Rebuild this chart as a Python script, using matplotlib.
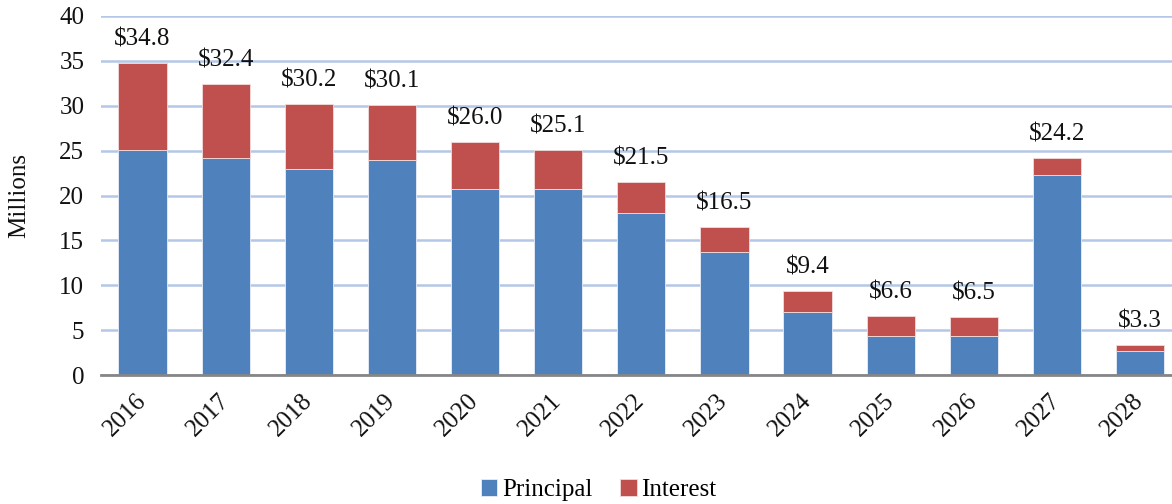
import matplotlib
matplotlib.use("Agg")
import matplotlib.pyplot as plt
import numpy as np

years = ["2016", "2017", "2018", "2019", "2020", "2021", "2022",
         "2023", "2024", "2025", "2026", "2027", "2028"]
totals = [34.8, 32.4, 30.2, 30.1, 26.0, 25.1, 21.5, 16.5, 9.4, 6.6, 6.5, 24.2, 3.3]
principal = [25.1, 24.2, 23.0, 23.9, 20.7, 20.7, 18.0, 13.7, 7.0, 4.4, 4.4, 22.3, 2.7]
interest = [round(t - p, 2) for t, p in zip(totals, principal)]
labels = [f"${t:.1f}" for t in totals]

plt.rcParams['font.family'] = ['Liberation Serif', 'DejaVu Serif']

fig = plt.figure(figsize=(11.72, 5.04), dpi=100)
ax = fig.add_axes([101/1172, (504-375)/504, 1 - 101/1172, (375-16)/504])

x = np.arange(len(years))
w = 0.58
blue = "#4F81BD"
red = "#C0504D"
ax.bar(x, principal, w, color=blue, label="Principal", zorder=3,
       edgecolor="#e8eef7", linewidth=0.6)
ax.bar(x, interest, w, bottom=principal, color=red, label="Interest", zorder=3,
       edgecolor="#f2dcdb", linewidth=0.6)

for xi, t, lab in zip(x, totals, labels):
    ax.annotate(lab, (xi, t), xytext=(0, 9), textcoords="offset points",
                ha="center", va="bottom", fontsize=18, color="#111111")

ax.set_ylim(0, 40)
ax.set_xlim(-0.5, 12.385)
ax.set_yticks(range(0, 41, 5))
ax.yaxis.grid(True, color="#b4c7e7", linewidth=1.8, zorder=0)
ax.set_axisbelow(True)
for s in ["top", "right", "left"]:
    ax.spines[s].set_visible(False)
ax.spines["bottom"].set_color("#868686")
ax.spines["bottom"].set_linewidth(2)
ax.spines["bottom"].set_zorder(4)
ax.tick_params(axis="both", length=0, labelsize=18, colors="#111111")
ax.tick_params(axis="y", pad=12)
ax.set_xticks(x)
ax.set_xticklabels(years, rotation=45, ha="right", va="center",
                   rotation_mode="anchor")
ax.tick_params(axis="x", pad=16)
ax.set_ylabel("Millions", fontsize=18, color="#111111")
ax.yaxis.set_label_coords(-0.066, 0.5)

leg = fig.legend(loc="center", bbox_to_anchor=(0.511, 0.027), ncol=2, frameon=False,
                 fontsize=18, handlelength=0.65, handleheight=0.65,
                 handletextpad=0.2, columnspacing=1.1)

fig.savefig("out.png", dpi=100)
